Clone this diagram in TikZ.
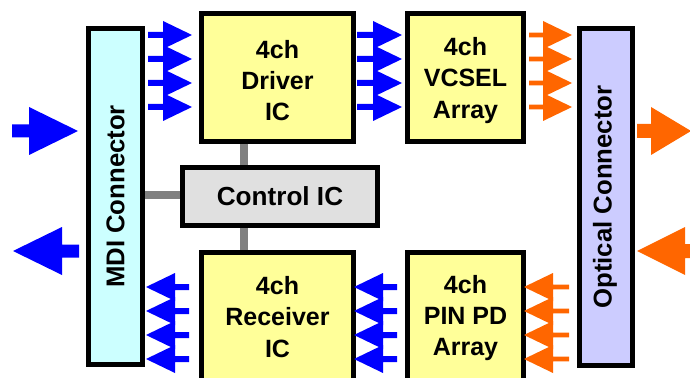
\documentclass[tikz,border=0pt]{standalone}
\usepackage{fontspec}
\setmainfont{Liberation Sans}
\usetikzlibrary{calc}
\definecolor{mdicol}{HTML}{CCFFFF}
\definecolor{optcol}{HTML}{CCCCFF}
\definecolor{chipcol}{HTML}{FFFF99}
\definecolor{ctrlcol}{HTML}{E0E0E0}
\definecolor{linkcol}{HTML}{808080}
\definecolor{bluecol}{HTML}{0000FF}
\definecolor{orangecol}{HTML}{FF6600}
\tikzset{
  box/.style={draw=black, line width=3.75pt, inner sep=0pt},
  chiptext/.style={inner sep=0pt, align=center,
    font=\bfseries\fontsize{18.75}{23.3}\selectfont},
  ctrltext/.style={inner sep=0pt, font=\bfseries\fontsize{19.6}{23}\selectfont},
  boxlabel/.style={rotate=90, inner sep=0pt, font=\bfseries\fontsize{19.3}{23}\selectfont},
  graylink/.style={draw=linkcol, line width=6pt},
  fat/.style n args={3}{to path={
    let \p1=(\tikztostart), \p2=(\tikztotarget), \n1={sign(\x2-\x1)} in
    (\x1,\y1+#1*0.75pt) -- ({\x2-\n1*#2*0.75pt},\y1+#1*0.75pt)
    -- ({\x2-\n1*#2*0.75pt},\y1+#3*0.75pt) -- (\x2,\y1)
    -- ({\x2-\n1*#2*0.75pt},\y1-#3*0.75pt) -- ({\x2-\n1*#2*0.75pt},\y1-#1*0.75pt)
    -- (\x1,\y1-#1*0.75pt) -- cycle}},
  bluefat/.style={fill=bluecol, fat={3}{29}{14}},
  orangefat/.style={fill=orangecol, fat={2.3}{29}{14}},
}
\begin{document}
\begin{tikzpicture}[x=0.75pt,y=-0.75pt]
\useasboundingbox (0,0) rectangle (690,378);
\clip (0,0) rectangle (690,378);
\fill[white] (0,0) rectangle (690,378);

% boxes
\node[box, fill=mdicol, minimum width={54*0.75pt}, minimum height={336*0.75pt}] (mdi) at (115.5,196.5) {};
\node[boxlabel] (mditext) at (mdi.center) {MDI Connector};
\node[box, fill=chipcol, minimum width={152*0.75pt}, minimum height={128*0.75pt}] (drv) at (277.5,77.5) {};
\node[chiptext] (drvtext) at ($(drv.center)+(0,3)$) {4ch\\Driver\\IC};
\node[box, fill=chipcol, minimum width={116*0.75pt}, minimum height={128*0.75pt}] (vcsel) at (465.5,77.5) {};
\node[chiptext] (vcseltext) at ($(vcsel.center)+(0,3)$) {4ch\\VCSEL\\Array};
\node[box, fill=optcol, minimum width={53*0.75pt}, minimum height={337*0.75pt}] (opt) at (606,197) {};
\node[boxlabel] (opttext) at ($(opt.center)+(-1,0)$) {Optical Connector};
\node[box, fill=ctrlcol, minimum width={195*0.75pt}, minimum height={58*0.75pt}] (ctrl) at (280,196.5) {};
\node[ctrltext] (ctrltxt) at (ctrl.center) {Control IC};
\node[box, fill=chipcol, minimum width={152*0.75pt}, minimum height={129*0.75pt}] (rcv) at (277.5,317) {};
\node[chiptext] (rcvtext) at ($(rcv.center)+(0,0)$) {4ch\\Receiver\\IC};
\node[box, fill=chipcol, minimum width={116*0.75pt}, minimum height={129*0.75pt}] (pin) at (465.5,317) {};
\node[chiptext] (pintext) at ($(pin.center)+(0,1)$) {4ch\\PIN PD\\Array};

% control links
\draw[graylink] (drv.south -| 244,0) -- (ctrl.north -| 244,0);
\draw[graylink] (ctrl.south -| 244,0) -- (rcv.north -| 244,0);
\draw[graylink] (mdi.east |- 0,195) -- (ctrl.west |- 0,195);

% transmit lanes
\foreach \yy in {35,59,83,107} {
  \fill[bluefat] ($(mdi.east |- 0,\yy)+(3,0)$) to ($(drv.west |- 0,\yy)+(-7,0)$);
  \fill[bluefat] ($(drv.east |- 0,\yy)+(1,0)$) to ($(vcsel.west |- 0,\yy)+(-3,0)$);
  \fill[orangefat] ($(vcsel.east |- 0,\yy)+(3,0)$) to ($(opt.west |- 0,\yy)+(-5,0)$);
}
% receive lanes
\foreach \yy in {287,311,335,359} {
  \fill[bluefat] ($(rcv.west |- 0,\yy)+(-10,0)$) to ($(mdi.east |- 0,\yy)+(1,0)$);
  \fill[bluefat] ($(pin.west |- 0,\yy)+(-8,0)$) to ($(rcv.east |- 0,\yy)+(-2,0)$);
  \fill[orangefat] ($(opt.west |- 0,\yy)+(-8,0)$) to ($(pin.east |- 0,\yy)+(-2,0)$);
}

% external big arrows
\coordinate (inL) at (12,131);
\coordinate (outL) at (13,251);
\coordinate (outR) at (691,131);
\coordinate (inR) at (692,251);
\fill[fill=bluecol, fat={6.5}{49}{24}] (inL) to ($(mdi.west |- inL)+(-8,0)$);
\fill[fill=bluecol, fat={6.5}{49}{24}] ($(mdi.west |- outL)+(-7,0)$) to (outL);
\fill[fill=orangecol, fat={7}{40}{24}] ($(opt.east |- outR)+(2,0)$) to (outR);
\fill[fill=orangecol, fat={7}{48}{24}] (inR) to ($(opt.east |- inR)+(2,0)$);
\end{tikzpicture}
\end{document}
